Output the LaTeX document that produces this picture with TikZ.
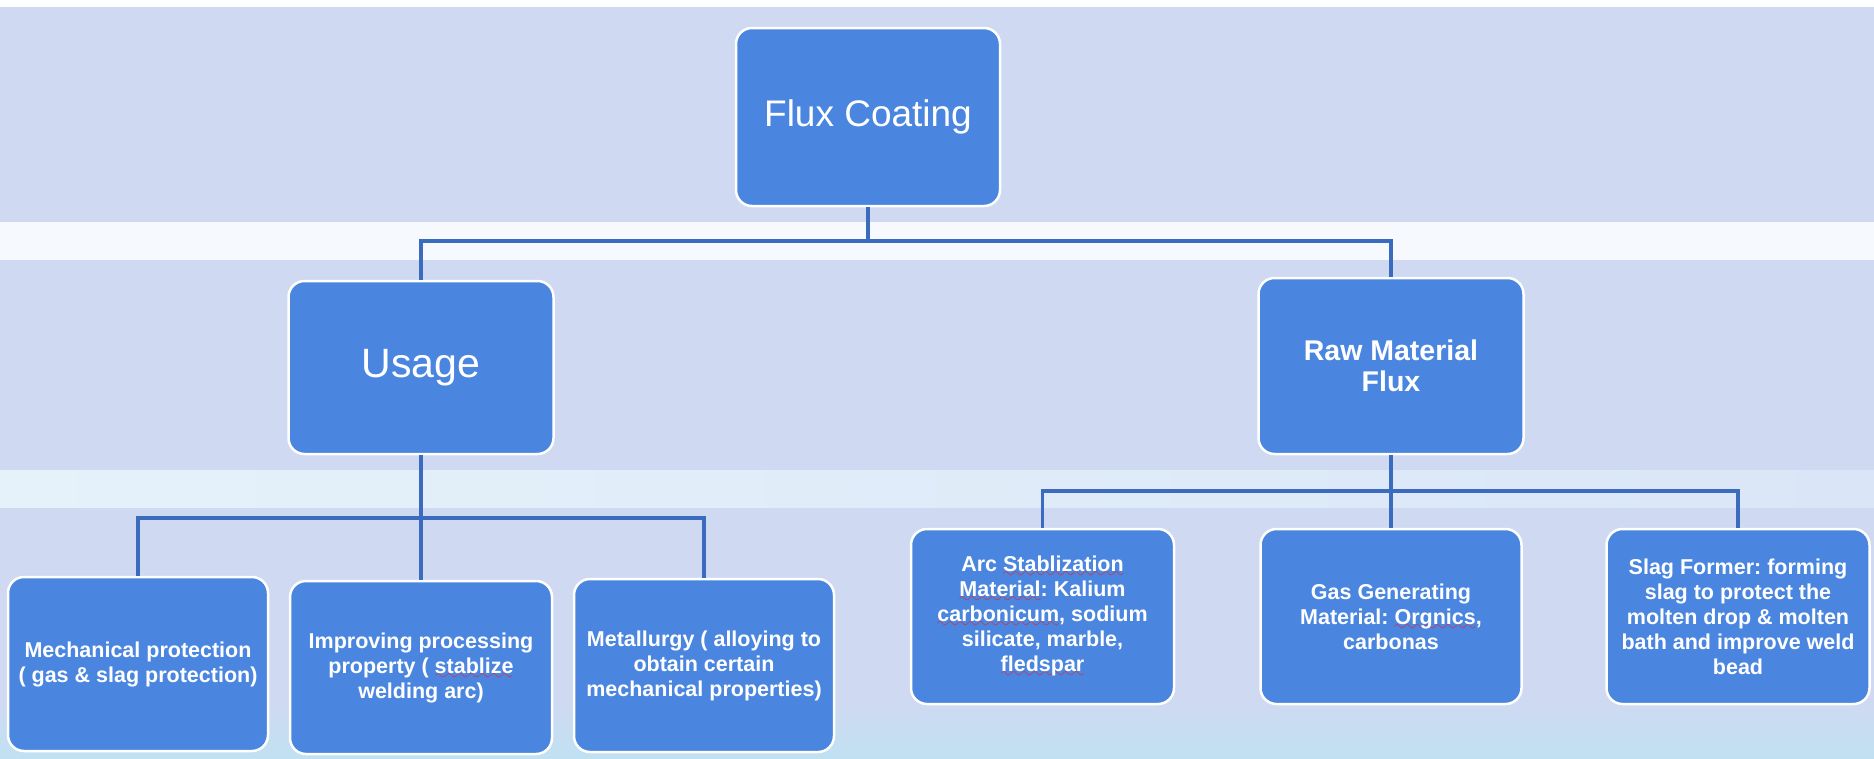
\documentclass[tikz,border=0pt]{standalone}
\usepackage{fontspec}
\setmainfont{Liberation Sans}
\definecolor{boxblue}{RGB}{74,134,224}
\definecolor{lav}{RGB}{207,217,242}
\definecolor{bandw}{RGB}{246,249,254}
\definecolor{bandc}{RGB}{229,242,250}
\definecolor{bandc2}{RGB}{218,230,247}
\definecolor{botc}{RGB}{192,225,242}
\definecolor{linkc}{RGB}{59,107,190}
\definecolor{sqc}{RGB}{225,40,60}
\font\sqfont=lasy10 scaled 1500
\newcommand\spellsq[1]{\setbox0\hbox{#1}\rlap{\textcolor{sqc}{\lower6pt\hbox to \wd0{\xleaders\hbox{\sqfont\char58}\hfill}}}\box0}
\frenchspacing
\tikzset{
  box/.style={rounded corners=16pt, draw=white, line width=2.5pt, fill=boxblue,
    text=white, align=center, inner sep=0pt},
  small/.style={box, font=\fontsize{21.5}{25}\selectfont\bfseries},
  link/.style={draw=linkc, line width=3.5pt}
}
\begin{document}
\begin{tikzpicture}[x=1pt,y=-1pt]
\useasboundingbox (0,0) rectangle (1874,758);
\fill[white] (0,0) rectangle (1874,758);
\fill[lav] (0,7) rectangle (1874,758);
\fill[bandw] (0,222) rectangle (1874,260);
\shade[left color=bandc, right color=bandc2] (0,470) rectangle (1874,507);
\shade[top color=lav, bottom color=botc] (0,700) rectangle (1874,758);

\node[box, minimum width=264, minimum height=178, font=\fontsize{37}{42}\selectfont] (flux) at (868,117) {Flux Coating};
\node[box, minimum width=265, minimum height=173, font=\fontsize{41}{46}\selectfont] (usage) at (421,367.5) {Usage};
\node[box, minimum width=265, minimum height=176, font=\fontsize{28.5}{31}\selectfont\bfseries] (raw) at (1391,366) {Raw Material\\Flux};

\node[small, minimum width=260, minimum height=174] (mech) at (138,664) {Mechanical protection\\( gas \& slag protection)};
\node[small, minimum width=262, minimum height=173] (impr) at (421,667.5) {Improving processing\\property ( \spellsq{stablize}\\welding arc)};
\node[small, minimum width=260, minimum height=173] (metal) at (704,665.5) {Metallurgy ( alloying to\\obtain certain\\mechanical properties)};

\node[small, minimum width=263, minimum height=175] (arc) at (1042.5,616.5) {Arc \spellsq{Stablization}\\\spellsq{Material}: Kalium\\\spellsq{carbonicum}, sodium\\silicate, marble,\\\spellsq{fledspar}};
\node[small, minimum width=261, minimum height=175] (gas) at (1391,616.5) {Gas Generating\\Material: \spellsq{Orgnics},\\carbonas};
\node[small, minimum width=263, minimum height=175] (slag) at (1738,616.5) {Slag Former: forming\\slag to protect the\\molten drop \& molten\\bath and improve weld\\bead};

\coordinate (b1) at (868,241);
\coordinate (b2) at (421,518);
\coordinate (b3) at (1391,491);

\draw[link] (flux.south) -- (b1);
\draw[link] (usage.north) |- (b1) -| (raw.north);
\draw[link] (usage.south) -- (b2);
\draw[link] (mech.north) |- (b2) -| (metal.north);
\draw[link] (b2) -- (impr.north);
\draw[link] (raw.south) -- (b3);
\draw[link] (arc.north) |- (b3) -| (slag.north);
\draw[link] (b3) -- (gas.north);
\end{tikzpicture}
\end{document}
